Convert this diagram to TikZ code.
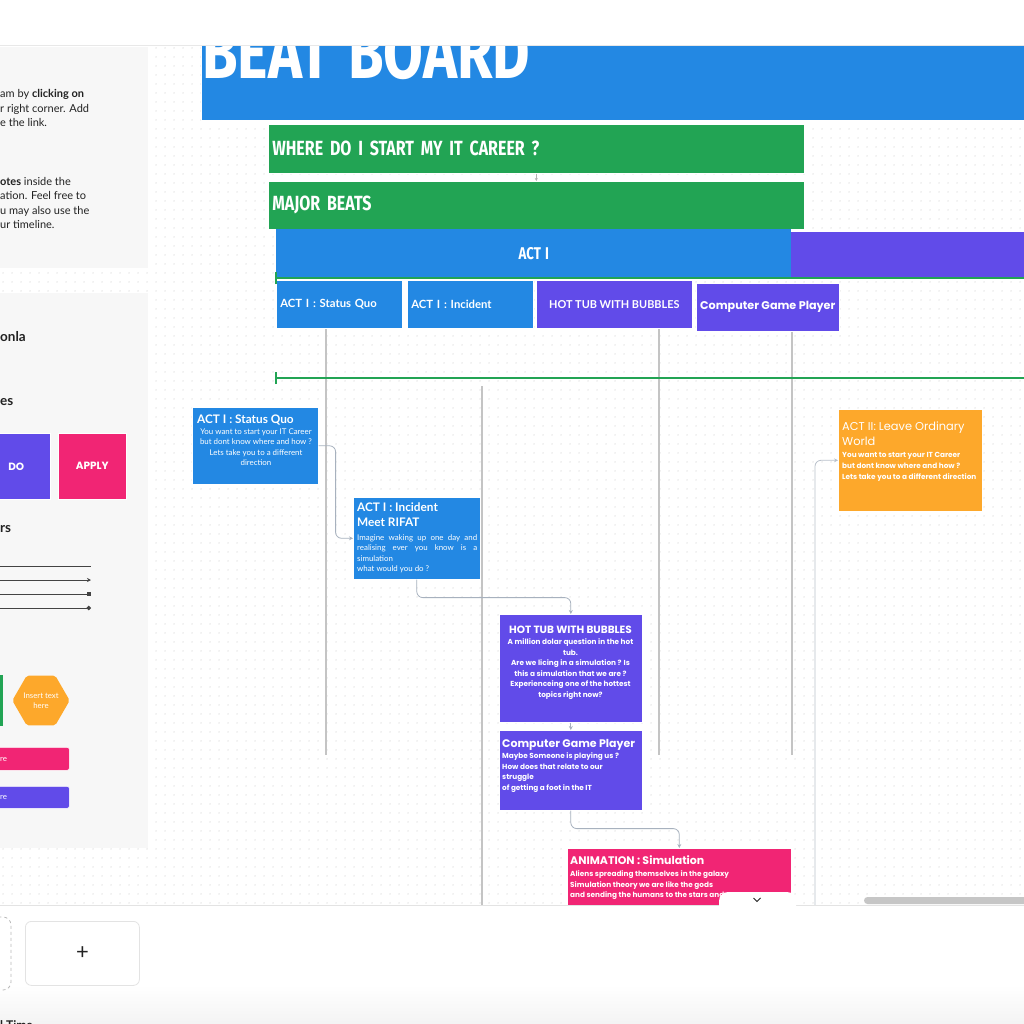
\documentclass[tikz,border=0pt]{standalone}
\usepackage{fontspec}
\setmainfont{Lato}
\newfontfamily\popfont{Poppins}
\newfontfamily\condfont[FakeStretch=0.78, WordSpace=1.3]{Fira Sans}
\usetikzlibrary{arrows.meta, positioning, patterns.meta, shapes.geometric}

\definecolor{boardblue}{HTML}{2388E3}
\definecolor{boardgreen}{HTML}{22A454}
\definecolor{boardpurple}{HTML}{614BE9}
\definecolor{boardpink}{HTML}{F12574}
\definecolor{boardorange}{HTML}{FDA82B}
\definecolor{panelgray}{HTML}{F7F7F7}
\definecolor{dotgray}{HTML}{D6D6D6}
\definecolor{railgray}{HTML}{C4C4C4}
\definecolor{linkgray}{HTML}{A7B1BE}
\definecolor{inkdark}{HTML}{222222}

\tikzdeclarepattern{
  name=boarddots,
  type=uncolored,
  bounding box={(0pt,0pt) and (9pt,9pt)},
  tile size={(9pt,9pt)},
  code={\fill (4.5pt,4.5pt) circle (0.75pt);}
}

\begin{document}
\begin{tikzpicture}[
    x=1pt, y=-1pt,
    card/.style={
        rectangle,
        draw=white,
        line width=0.6pt,
        inner sep=0pt,
        anchor=north west
    },
    beat/.style={card, minimum height=48, text=white},
    ttl/.style={text=white, inner sep=0pt, font=\bfseries\fontsize{11.8}{15}\selectfont},
    ttlPop/.style={text=white, inner sep=0pt, font=\popfont\bfseries\fontsize{10.5}{15}\selectfont},
    blurb/.style={text=white, inner sep=0pt, font=\fontsize{7.9}{10.3}\selectfont},
    blurbPop/.style={text=white, inner sep=0pt, font=\popfont\bfseries\fontsize{7.3}{10.6}\selectfont},
    side/.style={text=inkdark, inner sep=0pt, anchor=mid west, font=\fontsize{11}{12}\selectfont},
    sidehead/.style={side, font=\bfseries\fontsize{13.5}{14}\selectfont},
    rail/.style={draw=railgray, line width=2pt},
    link/.style={draw=linkgray, line width=0.8pt, rounded corners=6, -{Stealth[length=4pt, width=4pt]}},
    timeline/.style={draw=boardgreen, line width=2pt, {Bar[width=12pt, line width=1.6pt]}-},
    legend/.style={draw=inkdark!85, line width=1pt}
]
\useasboundingbox (0,0) rectangle (1024,1024);
\clip (0,0) rectangle (1024,1024);

% Canvas
\fill[white] (0,0) rectangle (1024,1024);
\fill[pattern=boarddots, pattern color=dotgray] (0,45) rectangle (1024,905);

% Left panels
\fill[panelgray] (-1,47) rectangle (148,268);
\fill[panelgray] (-1,293) rectangle (148,848);

\node[side] (tipA) at (0,95) {am by \textbf{clicking on}};
\node[side] (tipB) at (0,110) {r right corner. Add};
\node[side] (tipC) at (0,124) {e the link.};
\node[side] (tipD) at (0,183) {\textbf{otes} inside the};
\node[side] (tipE) at (0,197) {ation. Feel free to};
\node[side] (tipF) at (0,212) {u may also use the};
\node[side] (tipG) at (0,226) {ur timeline.};

\node[sidehead] (headName) at (0,339) {onla};
\node[sidehead] (headShapes) at (0,403) {es};
\node[sidehead] (headLinks) at (0,530) {rs};

\node[card, fill=boardpurple, minimum width=68, minimum height=66, text=white,
      font=\popfont\bfseries\fontsize{10.5}{12}\selectfont] (doBox) at (-18,433) {DO};
\node[card, fill=boardpink, minimum width=68, minimum height=66, text=white,
      font=\popfont\bfseries\fontsize{10.5}{12}\selectfont] (applyBox) at (58,433) {APPLY};

\coordinate (legA0) at (-5,566); \coordinate (legA1) at (91,566);
\coordinate (legB0) at (-5,580); \coordinate (legB1) at (91,580);
\coordinate (legC0) at (-5,594); \coordinate (legC1) at (91,594);
\coordinate (legD0) at (-5,608); \coordinate (legD1) at (91,608);
\draw[legend] (legA0) -- (legA1);
\draw[legend, -{Stealth[length=4pt, width=4pt]}] (legB0) -- (legB1);
\draw[legend, -{Square[length=4pt, width=4pt]}] (legC0) -- (legC1);
\draw[legend, -{Circle[length=4.5pt]}] (legD0) -- (legD1);

\fill[boardgreen] (-10,675) rectangle (2.5,726);
\node[regular polygon, regular polygon sides=6, minimum size=56, fill=boardorange,
      rounded corners=2, inner sep=0pt, text=white, align=center,
      font=\fontsize{7.8}{9.5}\selectfont] (hexNote) at (41,700.5) {Insert text\\here};
\node[card, fill=boardpink, rounded corners=2, minimum width=100, minimum height=23] (pinkBar) at (-31,747) {};
\node[blurb, anchor=mid west] (pinkBarText) at (0,758.5) {re};
\node[card, fill=boardpurple, rounded corners=2, minimum width=100, minimum height=22] (purpleBar) at (-31,786) {};
\node[blurb, anchor=mid west] (purpleBarText) at (0,797) {re};

% Rails
\coordinate (railAtop) at (326,328); \coordinate (railAend) at (326,755);
\coordinate (railBtop) at (482,386); \coordinate (railBend) at (482,910);
\coordinate (railCtop) at (659,328); \coordinate (railCend) at (659,755);
\coordinate (railDtop) at (792,331); \coordinate (railDend) at (792,755);
\draw[rail] (railAtop) -- (railAend);
\draw[rail] (railBtop) -- (railBend);
\draw[rail] (railCtop) -- (railCend);
\draw[rail] (railDtop) -- (railDend);

% Title blocks
\node[card, fill=boardblue, minimum width=823, minimum height=75] (board) at (201,45) {};
\node[text=white, inner sep=0pt, anchor=base west,
      font=\condfont\bfseries\fontsize{74}{74}\selectfont] (boardTitle) at (202,79) {BEAT BOARD};

\node[card, fill=boardgreen, minimum width=536, minimum height=49, text width=528, align=left, text=white,
      font=\condfont\bfseries\fontsize{20.5}{21}\selectfont] (where) at (268,124) {WHERE DO I START MY IT CAREER ?};
\node[card, fill=boardgreen, minimum width=536, minimum height=48, text width=528, align=left, text=white,
      font=\condfont\bfseries\fontsize{20.5}{21}\selectfont] (major) at (268,181) {MAJOR BEATS};
\draw[link, draw=gray!60, -{Stealth[length=3pt, width=3pt]}] (where.south) -- (major.north);

\node[card, draw=none, fill=boardblue, minimum width=515, minimum height=49, text=white,
      font=\condfont\bfseries\fontsize{17}{17}\selectfont] (actOne) at (276,229) {ACT I};
\node[card, draw=none, fill=boardpurple, minimum width=240, minimum height=46] (actTwoBar) at (791,232) {};

% Beat headers
\node[beat, fill=boardblue, minimum width=126, text width=118, align=left,
      font=\bfseries\fontsize{11.3}{12}\selectfont] (hdQuo) at (276,280) {ACT I : Status Quo};
\node[beat, fill=boardblue, minimum width=126, text width=118, align=left,
      font=\bfseries\fontsize{11.3}{12}\selectfont] (hdInc) at (407,280) {ACT I : Incident};
\node[beat, fill=boardpurple, minimum width=156,
      font=\bfseries\fontsize{10.9}{12}\selectfont] (hdHot) at (536,280) {HOT TUB WITH BUBBLES};
\node[beat, fill=boardpurple, minimum width=143,
      font=\popfont\fontsize{11.2}{12}\selectfont] (hdGame) at (696,283) {\textbf{Computer Game Player}};

% Timelines
\coordinate (tlOneStart) at (275,278); \coordinate (tlOneEnd) at (1030,278);
\coordinate (tlTwoStart) at (275,378); \coordinate (tlTwoEnd) at (1030,378);
\draw[timeline] (tlOneStart) -- (tlOneEnd);
\draw[timeline] (tlTwoStart) -- (tlTwoEnd);

% Beat cards
\node[card, fill=boardblue, minimum width=126, minimum height=77] (quo) at (192,407) {};
\node[ttl, anchor=mid west] (quoTitle) at (197,420.5) {ACT I : Status Quo};
\node[blurb, align=center, anchor=north] (quoBody) at (256,428.5)
    {You want to start your IT Career\\but dont know where and how ?\\Lets take you to a different\\direction};

\node[card, fill=boardblue, minimum width=127, minimum height=82] (inc) at (353,497) {};
\node[ttl, align=left, anchor=north west] (incTitle) at (357,503) {ACT I : Incident\\Meet RIFAT};
\node[blurb, align=left, anchor=north west] (incBody) at (357,534.5)
    {\makebox[120pt][s]{Imagine waking up one day and}\\\makebox[120pt][s]{realising ever you know is a}\\simulation\\what would you do ?};

\node[card, fill=boardpurple, minimum width=143, minimum height=108] (hot) at (499,614) {};
\node[ttlPop] (hotTitle) at (570.5,629.5) {HOT TUB WITH BUBBLES};
\node[blurbPop, align=center, anchor=north] (hotBody) at (570.5,638.5)
    {A million dolar question in the hot\\tub.\\Are we licing in a simulation ? Is\\this a simulation that we are ?\\Experienceing one of the hottest\\topics right now?};

\node[card, fill=boardpurple, minimum width=143, minimum height=80] (game) at (499,730) {};
\node[ttlPop, anchor=mid west, font=\popfont\bfseries\fontsize{11}{15}\selectfont] (gameTitle) at (502,745) {Computer Game Player};
\node[blurbPop, align=left, anchor=north west] (gameBody) at (502,752.5)
    {Maybe Someone is playing us ?\\How does that relate to our\\struggle\\of getting a foot in the IT};

\node[card, fill=boardpink, minimum width=224, minimum height=120] (anim) at (567,848) {};
\node[ttlPop, anchor=mid west, font=\popfont\bfseries\fontsize{11}{15}\selectfont] (animTitle) at (570,862) {ANIMATION : Simulation};
\node[blurbPop, align=left, anchor=north west] (animBody) at (570,870.5)
    {Aliens spreading themselves in the galaxy\\Simulation theory we are like the gods\\and sending the humans to the stars and};

\node[card, fill=boardorange, minimum width=144, minimum height=102] (actTwo) at (838,409) {};
\node[ttlPop, align=left, anchor=north west, font=\popfont\fontsize{11.4}{15}\selectfont] (actTwoTitle) at (842,422)
    {ACT II: Leave Ordinary\\World};
\node[blurbPop, align=left, anchor=north west] (actTwoBody) at (842,452.5)
    {You want to start your IT Career\\but dont know where and how ?\\Lets take you to a different direction};

% Links
\draw[link] (quo.east) -- ++(17,0) |- (inc.west);
\draw[link] (inc.south) -- ++(0,18) -| (hot.north);
\draw[link, rounded corners=0] (hot.south) -- (game.north);
\draw[link] (game.south) -- ++(0,18) -| (anim.north);
\coordinate (actTwoFeed) at (815,910);
\draw[link, draw=linkgray!80] (actTwoFeed) |- (actTwo.west);

% Top bar
\fill[white] (0,0) rectangle (1024,45);
\draw[gray!18, line width=0.8pt] (0,45.5) -- (1024,45.5);

% Bottom bar
\fill[white] (0,905) rectangle (1024,1024);
\shade[top color=white, bottom color=gray!9] (0,985) rectangle (1024,1024);
\draw[gray!22, line width=0.8pt] (0,905) -- (1024,905);
\fill[white, rounded corners=9] (719,892) rectangle (796,918);
\draw[inkdark, line width=0.8pt] (753.5,898) -- (757,901.5) -- (760.5,898);
\fill[gray!45, rounded corners=3.5] (864,897) rectangle (1034,904);

\draw[gray!55, dashed, line width=0.8pt, rounded corners=8] (-20,917) rectangle (11,990);
\node[card, draw=gray!22, line width=0.8pt, rounded corners=6, minimum width=114, minimum height=64] (addPage) at (25,921) {};
\node[text=inkdark, inner sep=0pt, font=\fontsize{22}{22}\selectfont] (addPlus) at (addPage.center) {+};
\node[text=inkdark, inner sep=0pt, anchor=base west, font=\bfseries\fontsize{12}{12}\selectfont] (footTitle) at (0,1029) {l Time};

\end{tikzpicture}
\end{document}
